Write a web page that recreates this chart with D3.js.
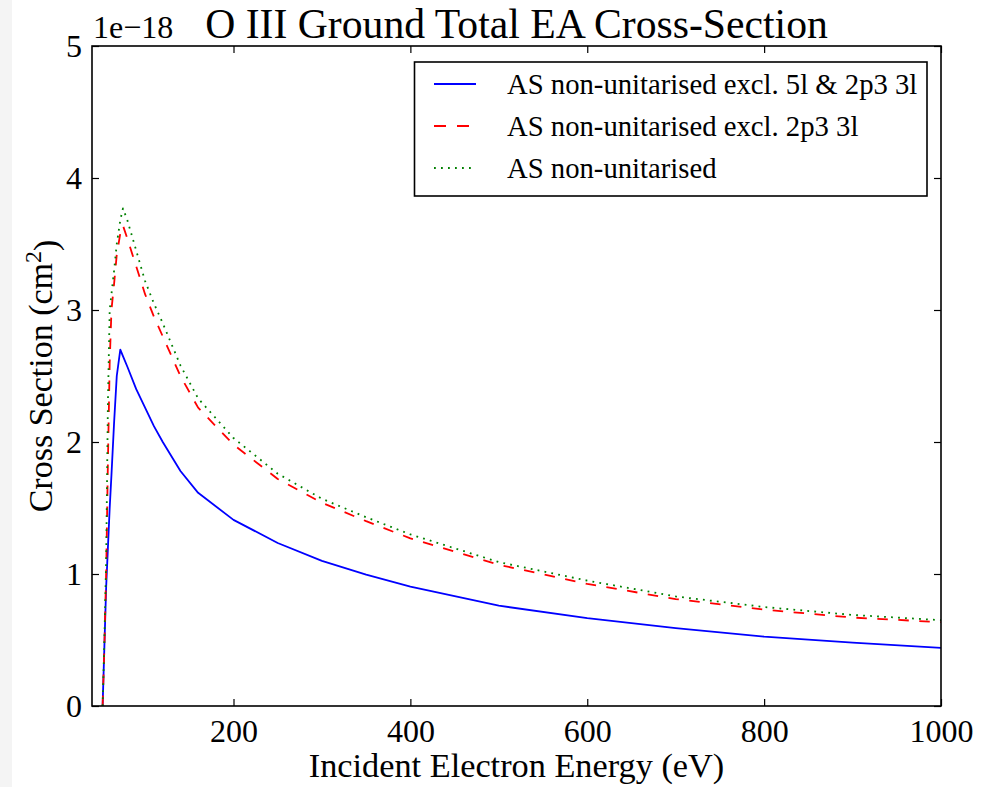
<!DOCTYPE html>
<html>
<head>
<meta charset="utf-8">
<script src="https://cdn.jsdelivr.net/npm/d3@7/dist/d3.min.js"></script>
<style>
  html, body { margin: 0; padding: 0; background: #ffffff; }
  svg { display: block; }
  text { font-family: "Liberation Serif", "DejaVu Serif", serif; fill: #000; }
</style>
</head>
<body>
<svg id="chart" width="993" height="787"></svg>
<script>
// Incident electron energies (eV) shared by all three runs
const energy = [52, 54, 56, 58, 60, 62, 65, 68, 72, 75, 80, 90, 100, 110, 120, 140, 160, 200,
                250, 300, 350, 400, 500, 600, 700, 800, 900, 1000];

// Total cross-sections, in units of 1e-18 cm^2
const exclBoth = [0, 0.45, 0.9, 1.2, 1.5, 1.75, 2.15, 2.5, 2.70, 2.65, 2.57, 2.40, 2.26, 2.12, 2.00,
                  1.78, 1.615, 1.41, 1.235, 1.10, 0.995, 0.905, 0.76, 0.665, 0.59, 0.525, 0.48, 0.44];
const excl2p3 = [0, 0.45, 1.0, 1.85, 2.6, 3.0, 3.2, 3.42, 3.58, 3.64, 3.54, 3.33, 3.12, 2.95, 2.80,
                 2.50, 2.26, 1.98, 1.72, 1.54, 1.40, 1.27, 1.07, 0.925, 0.81, 0.73, 0.67, 0.635];
const fullRun = [0, 0.5, 1.1, 2.3, 3.0, 3.12, 3.30, 3.50, 3.68, 3.77, 3.68, 3.45, 3.22, 3.05, 2.90,
                 2.58, 2.33, 2.03, 1.76, 1.57, 1.43, 1.30, 1.09, 0.95, 0.83, 0.75, 0.69, 0.65];

const seriesNames = ["AS non-unitarised excl. 5l & 2p3 3l",
                     "AS non-unitarised excl. 2p3 3l",
                     "AS non-unitarised"];
const xTicks = [200, 400, 600, 800, 1000];
const yTicks = [0, 1, 2, 3, 4, 5];

const svg = d3.select("#chart");
const W = 993, H = 787;
const m = { left: 92, right: 941, top: 46, bottom: 706 };

svg.append("rect").attr("width", W).attr("height", H).attr("fill", "#fff");
svg.append("rect").attr("x", 0).attr("y", 0).attr("width", 12).attr("height", H).attr("fill", "#f4f4f4");

const x = d3.scaleLinear().domain([40, 1000]).range([m.left, m.right]);
const y = d3.scaleLinear().domain([0, 5]).range([m.bottom, m.top]);

// clip the curves to the axes box
svg.append("defs").append("clipPath").attr("id", "plotClip")
  .append("rect").attr("x", m.left).attr("y", m.top)
  .attr("width", m.right - m.left).attr("height", m.bottom - m.top);

const styles = [
  { color: "#0000ff", dash: null, width: 1.8 },
  { color: "#ff0000", dash: "10.5,10.5", width: 1.8 },
  { color: "#008000", dash: "1.8,5.2", width: 1.8 }
];
const data = [exclBoth, excl2p3, fullRun];

const line = d3.line().x(d => x(d[0])).y(d => y(d[1]));
const plot = svg.append("g").attr("clip-path", "url(#plotClip)");
data.forEach((vals, i) => {
  plot.append("path")
    .datum(energy.map((e, j) => [e, vals[j]]))
    .attr("d", line)
    .attr("fill", "none")
    .attr("stroke", styles[i].color)
    .attr("stroke-width", styles[i].width)
    .attr("stroke-dasharray", styles[i].dash)
    .attr("stroke-linejoin", "round");
});

// axes with inward ticks on all four sides
const tickLen = 7;
const xBottom = d3.axisBottom(x).tickValues(xTicks).tickSize(-tickLen).tickPadding(12).tickFormat(d3.format("d"));
const xTop = d3.axisTop(x).tickValues(xTicks).tickSize(-tickLen).tickFormat("");
const yLeft = d3.axisLeft(y).tickValues(yTicks).tickSize(-tickLen).tickPadding(10).tickFormat(d3.format("d"));
const yRight = d3.axisRight(y).tickValues(yTicks).tickSize(-tickLen).tickFormat("");

function styleAxis(g) {
  g.select(".domain").remove();
  g.selectAll(".tick line").attr("stroke", "#000").attr("stroke-width", 1.2);
  g.selectAll(".tick text").style("font-family", "Liberation Serif").style("font-size", "32px");
}
svg.append("g").attr("transform", `translate(0,${m.bottom})`).call(xBottom).call(styleAxis)
  .selectAll(".tick text").attr("dy", "0.76em");
svg.append("g").attr("transform", `translate(0,${m.top})`).call(xTop).call(styleAxis);
svg.append("g").attr("transform", `translate(${m.left},0)`).call(yLeft).call(styleAxis)
  .selectAll(".tick text").attr("dy", "0.34em");
svg.append("g").attr("transform", `translate(${m.right},0)`).call(yRight).call(styleAxis);

// frame
svg.append("rect")
  .attr("x", m.left).attr("y", m.top)
  .attr("width", m.right - m.left).attr("height", m.bottom - m.top)
  .attr("fill", "none").attr("stroke", "#000").attr("stroke-width", 1.6);

// offset text and title
svg.append("text").attr("x", m.left + 1).attr("y", 38)
  .style("font-size", "32px").text("1e\u221218");
svg.append("text").attr("x", (m.left + m.right) / 2).attr("y", 38)
  .attr("text-anchor", "middle").style("font-size", "41.7px")
  .text("O III Ground Total EA Cross-Section");

// axis labels
svg.append("text").attr("x", (m.left + m.right) / 2).attr("y", 777)
  .attr("text-anchor", "middle").style("font-size", "34.3px")
  .text("Incident Electron Energy (eV)");
const yl = svg.append("text")
  .attr("transform", `translate(52,${(m.top + m.bottom) / 2}) rotate(-90)`)
  .attr("text-anchor", "middle").style("font-size", "34px");
yl.append("tspan").text("Cross Section (cm");
yl.append("tspan").attr("dy", "-0.45em").style("font-size", "24px").text("2");
yl.append("tspan").attr("dy", "0.45em").text(")");

// legend
const lg = svg.append("g");
lg.append("rect").attr("x", 414.5).attr("y", 62).attr("width", 512.5).attr("height", 134)
  .attr("fill", "#fff").attr("stroke", "#000").attr("stroke-width", 1.6);
const rowY = [84, 126, 168];
seriesNames.forEach((name, i) => {
  lg.append("line").attr("x1", 434).attr("x2", 476).attr("y1", rowY[i]).attr("y2", rowY[i])
    .attr("stroke", styles[i].color).attr("stroke-width", styles[i].width)
    .attr("stroke-dasharray", i === 1 ? "12,11" : styles[i].dash);
  lg.append("text").attr("x", 507).attr("y", rowY[i]).attr("dy", "0.34em")
    .style("font-size", "28.7px").text(name);
});
</script>
</body>
</html>
